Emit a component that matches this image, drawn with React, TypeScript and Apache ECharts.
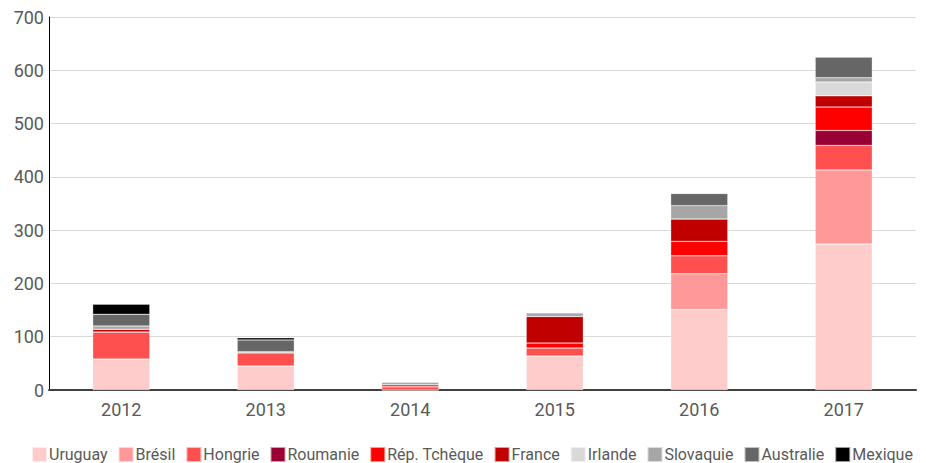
import React, { useEffect, useRef } from "react";
import * as echarts from "echarts";

const years = ["2012", "2013", "2014", "2015", "2016", "2017"];
const seriesNames = ["Uruguay", "Brésil", "Hongrie", "Roumanie", "Rép. Tchèque", "France", "Irlande", "Slovaquie", "Australie", "Mexique"];
const colors = ["#ffcccc", "#ff9999", "#ff5050", "#990033", "#ff0000", "#c00000", "#d9d9d9", "#a6a6a6", "#666666", "#000000"];

const uruguay = [58, 45, 0, 64, 151, 274];
const bresil = [0, 0, 0, 0, 67, 139];
const hongrie = [51, 25, 6, 15, 34, 46];
const roumanie = [0, 0, 0, 0, 0, 28];
const repTcheque = [0, 0, 4, 9, 27, 44];
const france = [5, 0, 0, 50, 42, 21];
const irlande = [0, 0, 0, 0, 0, 26];
const slovaquie = [6, 2, 5, 7, 25, 8];
const australie = [22, 22, 0, 0, 23, 39];
const mexique = [19, 4, 0, 0, 0, 0];

const allValues = [uruguay, bresil, hongrie, roumanie, repTcheque, france, irlande, slovaquie, australie, mexique];

export default function App() {
  const ref = useRef<HTMLDivElement>(null);
  useEffect(() => {
    if (!ref.current) return;
    const chart = echarts.init(ref.current, undefined, { renderer: "svg" });
    const font = "Roboto, 'Noto Sans', sans-serif";
    chart.setOption({
      animation: false,
      textStyle: { fontFamily: font },
      grid: { left: 41, right: 10, top: 9, bottom: 73, containLabel: false },
      legend: {
        top: 438,
        left: 23,
        width: 895,
        padding: 0,
        itemWidth: 15,
        itemHeight: 15,
        itemGap: 10,
        icon: "rect",
        textStyle: { fontSize: 16, color: "#595959", fontFamily: font, padding: [0, 0, 0, -3] },
        data: seriesNames,
      },
      xAxis: {
        type: "category",
        data: years,
        axisLine: { lineStyle: { color: "#404040", width: 2 } },
        axisTick: { show: false },
        axisLabel: { fontSize: 18, color: "#595959", margin: 10 },
      },
      yAxis: {
        type: "value",
        min: 0,
        max: 700,
        interval: 100,
        axisLine: { show: true, lineStyle: { color: "#000000", width: 1 } },
        axisTick: { show: false },
        axisLabel: { fontSize: 18, color: "#595959", margin: 5 },
        splitLine: { lineStyle: { color: "#d9d9d9" } },
      },
      series: seriesNames.map((name, i) => ({
        name,
        type: "bar",
        stack: "total",
        barWidth: "39.5%",
        data: allValues[i],
        itemStyle: { color: colors[i], borderColor: "rgba(255,255,255,0.6)", borderWidth: 0.5 },
      })),
    });
    return () => chart.dispose();
  }, []);
  return <div ref={ref} style={{ width: 918, height: 455 }} />;
}
